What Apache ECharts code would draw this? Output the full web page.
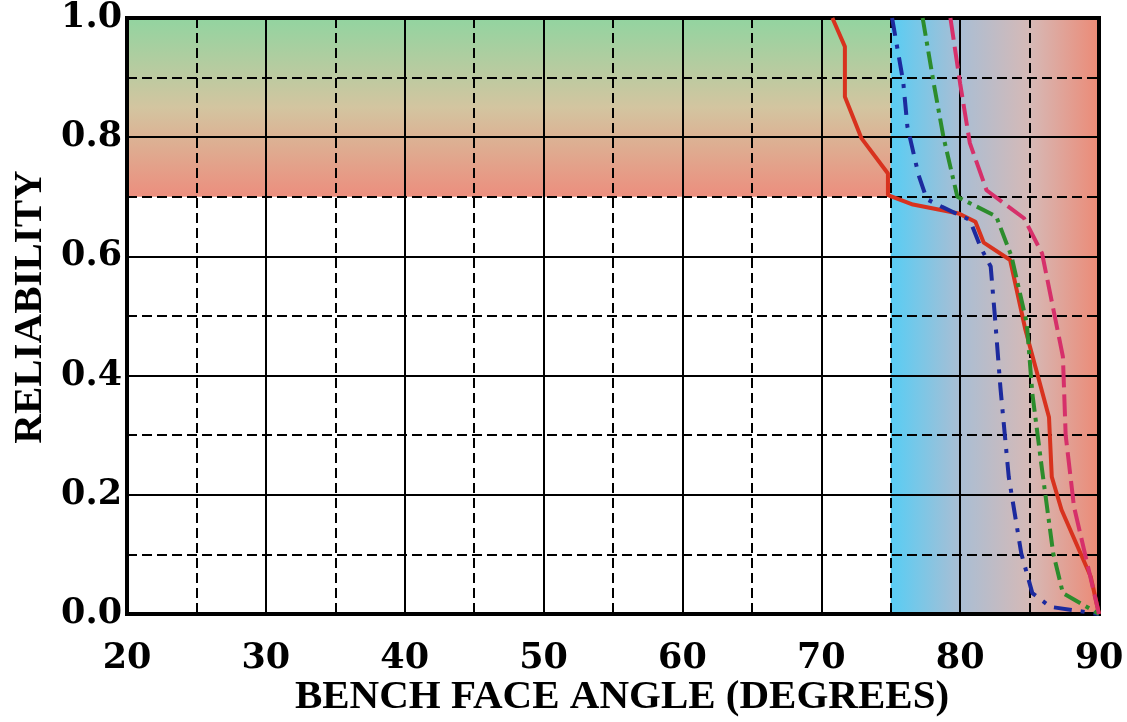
<!DOCTYPE html>
<html><head><meta charset="utf-8">
<script src="https://cdn.jsdelivr.net/npm/echarts@6/dist/echarts.min.js"></script>
<style>html,body{margin:0;padding:0;background:#fff}#c{width:1127px;height:722px}</style>
</head><body><div id="c"></div>
<script>
// Axis ranges / ticks
const xRange = [20, 90];
const yRange = [0, 1];
// Background zones: [xFrom, xTo, yFrom, yTo]
const zoneTop = [20, 75, 0.7, 1.0];
const zoneRight = [75, 90, 0.0, 1.0];

// Curves (bench face angle in degrees, reliability)
const redAngle  = [70.8, 71.7, 71.7, 72.9, 74.8, 74.8, 76.6, 79.9, 81.1, 81.7, 83.6, 84.7, 86.4, 86.6, 87.3, 89.4, 90.0];
const redRel    = [1.0, 0.952, 0.868, 0.798, 0.739, 0.703, 0.687, 0.672, 0.658, 0.623, 0.594, 0.477, 0.33, 0.23, 0.175, 0.063, 0.0];
const blueAngle = [75.1, 75.9, 76.2, 77.0, 77.6, 78.7, 80.7, 81.5, 82.2, 82.5, 82.9, 83.5, 84.4, 85.2, 86.5, 90.0];
const blueRel   = [1.0, 0.893, 0.818, 0.737, 0.696, 0.683, 0.661, 0.614, 0.583, 0.5, 0.38, 0.23, 0.102, 0.035, 0.012, 0.0];
const greenAngle = [77.3, 78.1, 78.8, 79.8, 82.6, 83.7, 84.8, 85.2, 85.9, 86.7, 87.4, 90.0];
const greenRel   = [1.0, 0.89, 0.8, 0.7, 0.667, 0.6, 0.488, 0.37, 0.242, 0.102, 0.035, 0.0];
const pinkAngle = [79.3, 80.0, 80.7, 81.9, 84.6, 85.9, 87.4, 87.6, 88.2, 89.1, 90.0];
const pinkRel   = [1.0, 0.89, 0.79, 0.711, 0.664, 0.605, 0.432, 0.3, 0.18, 0.09, 0.0];

const xTitle = 'BENCH FACE ANGLE (DEGREES)';
const yTitle = 'RELIABILITY';

const pairs = (a, b) => a.map((v, i) => [v, b[i]]);

const chart = echarts.init(document.getElementById('c'), null, {renderer: 'canvas'});

const topGrad = new echarts.graphic.LinearGradient(0, 0, 0, 1, [
  {offset: 0, color: '#92d4a0'},
  {offset: 0.5, color: '#d3c5a0'},
  {offset: 1, color: '#ec8e7e'}
]);
const rightGrad = new echarts.graphic.LinearGradient(0, 0, 1, 0, [
  {offset: 0, color: '#58cdf4'},
  {offset: 0.33, color: '#a9bed4'},
  {offset: 0.67, color: '#d6b9b6'},
  {offset: 1, color: '#ec8a76'}
]);

const lineSeries = (name, data, color, type) => ({
  name, type: 'line', data, symbol: 'none', z: 3,
  lineStyle: {color, width: 4, type}
});

const titleFont = {fontFamily: 'Liberation Serif', fontWeight: 'bold', fontSize: 41, fill: '#000'};

chart.setOption({
  animation: false,
  grid: {left: 127, right: 28, top: 18, bottom: 108, show: true, borderColor: '#000', borderWidth: 4, z: 1,
    containLabel: false, outerBoundsMode: 'none'},
  graphic: [
    {type: 'text', x: 622, y: 697, z: 10,
      style: Object.assign({text: xTitle, align: 'center', verticalAlign: 'middle'}, titleFont)},
    {type: 'text', x: 30, y: 307, rotation: Math.PI / 2, z: 10,
      style: Object.assign({text: yTitle, align: 'center', verticalAlign: 'middle'}, titleFont)}
  ],
  xAxis: {
    type: 'value', min: xRange[0], max: xRange[1], interval: 10,
    axisLine: {show: false}, axisTick: {show: false},
    axisLabel: {fontFamily: 'DejaVu Serif', fontWeight: 'bold', fontSize: 35, color: '#000', margin: 27},
    splitLine: {show: true, lineStyle: {color: '#000', width: 2}},
    minorTick: {show: false, splitNumber: 2},
    minorSplitLine: {show: true, lineStyle: {color: '#000', width: 2, type: [10, 5]}}
  },
  yAxis: {
    type: 'value', min: yRange[0], max: yRange[1], interval: 0.2,
    axisLine: {show: false}, axisTick: {show: false},
    axisLabel: {fontFamily: 'DejaVu Serif', fontWeight: 'bold', fontSize: 35, color: '#000', margin: 5,
      formatter: v => v.toFixed(1)},
    splitLine: {show: true, lineStyle: {color: '#000', width: 2}},
    minorTick: {show: false, splitNumber: 2},
    minorSplitLine: {show: true, lineStyle: {color: '#000', width: 2, type: [10, 5]}}
  },
  series: [
    {
      type: 'custom', z: -1, silent: true,
      data: [zoneTop.concat([0]), zoneRight.concat([1])],
      renderItem: (params, api) => {
        const p0 = api.coord([api.value(0), api.value(3)]);
        const p1 = api.coord([api.value(1), api.value(2)]);
        const kind = api.value(4);
        return {
          type: 'rect',
          shape: {x: p0[0], y: p0[1], width: p1[0] - p0[0], height: p1[1] - p0[1]},
          style: {fill: kind === 0 ? topGrad : rightGrad}
        };
      }
    },
    lineSeries('red', pairs(redAngle, redRel), '#d8321e', 'solid'),
    lineSeries('blue', pairs(blueAngle, blueRel), '#1c2a9e', [18, 9, 4, 9]),
    lineSeries('green', pairs(greenAngle, greenRel), '#2c8c2c', [18, 6, 4, 6]),
    lineSeries('pink', pairs(pinkAngle, pinkRel), '#d6306a', [22, 7])
  ]
});
</script></body></html>
